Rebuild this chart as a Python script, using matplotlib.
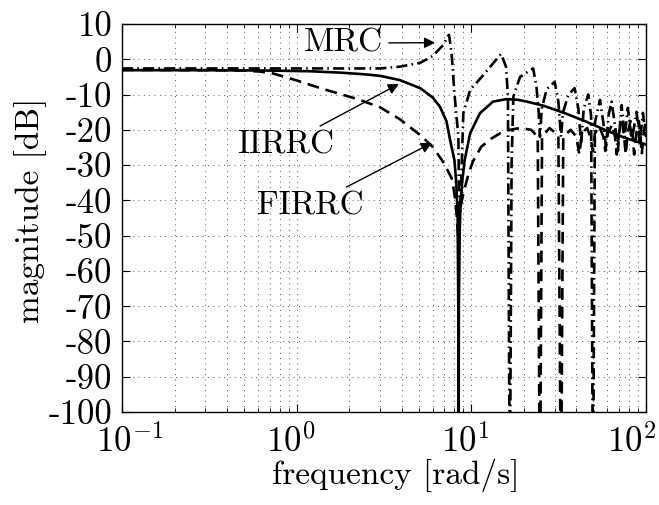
import matplotlib
matplotlib.use("Agg")
import matplotlib.pyplot as plt
import matplotlib.transforms as mtransforms
from matplotlib.ticker import LogLocator, NullFormatter

# -----------------------------
# Data
# -----------------------------

# IIRRC (solid)
iir_freq = [0.1, 0.3, 0.7, 1.2, 1.8, 2.5, 3.0, 3.9, 5.1, 6.0, 6.6, 7.2, 7.56,
            8.0, 8.2, 8.35, 8.42, 8.45, 8.48, 8.6, 8.85, 9.16, 9.84, 11.2,
            13.3, 15.9, 18.5, 20.8, 26.0, 34.4, 45.0, 58.2, 75.0, 100.0]
iir_mag = [-3.1, -3.1, -3.2, -3.4, -3.8, -4.3, -4.7, -5.9, -8.2, -10.8, -13.4,
           -17.5, -22.9, -28.6, -35.0, -45.0, -70.0, -130.0, -70.0, -45.0,
           -35.0, -28.6, -21.0, -15.3, -12.0, -11.3, -11.5, -12.0, -13.2,
           -15.3, -17.6, -20.0, -22.2, -24.2]

# FIRRC (dashed)
fir_freq = [0.1, 0.3, 0.5, 0.62, 0.73, 1.0, 1.37, 1.55, 2.2, 3.0, 3.9, 5.1,
            6.0, 6.98, 7.71, 8.0, 8.2, 8.45, 8.6, 9.0, 9.6, 10.2, 11.4, 13.0,
            14.6, 16.6, 19.0, 22.0, 24.0, 24.7, 25.4, 28.0, 31.5, 32.6, 33.6,
            37.0, 40.0, 41.5, 43.0, 46.0, 48.0, 49.7, 51.0, 54.0, 57.0, 58.5,
            60.5, 64.0, 66.5, 68.0, 70.0, 73.0, 75.0, 76.5, 78.5, 81.5, 84.0,
            85.5, 88.0, 91.0, 93.0, 94.5, 97.0, 100.0]
fir_mag = [-3.0, -3.1, -3.2, -3.5, -4.0, -6.0, -8.2, -9.0, -11.2, -13.6,
           -17.0, -21.5, -24.8, -29.5, -33.7, -38.0, -42.7, -52.0, -42.7,
           -38.0, -32.8, -29.0, -24.8, -22.5, -21.0, -20.0, -19.5, -20.0,
           -22.0, -130.0, -22.0, -19.5, -21.5, -130.0, -22.0, -20.0, -22.0,
           -27.0, -21.0, -19.5, -22.0, -26.0, -21.0, -19.0, -22.0, -26.0,
           -21.0, -18.5, -22.0, -27.0, -21.0, -18.0, -22.0, -27.0, -21.0,
           -17.5, -22.0, -27.0, -21.0, -17.5, -22.0, -27.0, -21.0, -17.0]

# MRC (dash-dot)
mrc_freq = [0.1, 0.5, 1.0, 2.0, 3.0, 3.9, 5.1, 6.0, 6.9, 7.35, 7.45, 7.71,
            8.0, 8.43, 8.55, 9.0, 9.84, 11.7, 14.6, 14.8, 15.8, 16.2, 16.6,
            17.0, 17.4, 19.0, 21.1, 22.6, 23.6, 24.3, 24.7, 25.3, 27.0, 30.0,
            31.5, 32.6, 33.5, 36.0, 39.0, 41.0, 42.5, 44.0, 46.7, 48.5, 49.7,
            51.0, 54.5, 57.0, 59.0, 61.0, 63.5, 67.0, 69.0, 72.5, 75.5, 78.7,
            83.0, 88.3, 92.0, 96.0, 100.0]
mrc_mag = [-2.6, -2.6, -2.6, -2.6, -2.6, -2.1, -1.0, 0.9, 4.0, 6.6, 6.9, 1.7,
           -9.6, -22.0, -50.0, -15.3, -8.7, -4.5, 1.2, 1.5, -2.1, -10.6,
           -130.0, -30.0, -10.6, -5.0, -3.5, -2.6, -7.8, -15.0, -22.0, -14.0,
           -8.5, -6.4, -12.0, -22.0, -15.0, -10.0, -8.2, -14.0, -24.0, -14.0,
           -10.0, -16.0, -130.0, -18.0, -11.5, -18.0, -25.0, -16.0, -12.0,
           -20.0, -26.0, -13.0, -22.0, -13.8, -23.0, -14.9, -24.0, -15.2,
           -22.0]

# Axis ticks
y_ticks = [10, 0, -10, -20, -30, -40, -50, -60, -70, -80, -90, -100]
y_tick_labels = ["10", "0", "-10", "-20", "-30", "-40", "-50", "-60", "-70",
                 "-80", "-90", "-100"]
x_ticks = [0.1, 1, 10, 100]
x_tick_labels = [r"$10^{-1}$", r"$10^{0}$", r"$10^{1}$", r"$10^{2}$"]


plt.rcParams["font.family"] = "cmr10"
plt.rcParams["mathtext.fontset"] = "cm"
plt.rcParams["axes.unicode_minus"] = False

fig = plt.figure(figsize=(6.59, 5.05), dpi=100)
ax = fig.add_axes([122 / 659, 1 - 412 / 505, 524 / 659, 388 / 505])

# Curves
ax.semilogx(iir_freq, iir_mag, color="black", linewidth=1.9,
            linestyle="-", solid_joinstyle="round")
ax.semilogx(fir_freq, fir_mag, color="black", linewidth=1.9,
            linestyle=(0, (4.5, 2.6)))
ax.semilogx(mrc_freq, mrc_mag, color="black", linewidth=1.9,
            linestyle=(0, (4.2, 1.6, 0.6, 1.6)))

ax.set_xlim(0.1, 100)
ax.set_ylim(-100, 10)

# Ticks
ax.set_xticks(x_ticks)
ax.set_xticklabels(x_tick_labels, fontsize=25)
ax.xaxis.set_minor_locator(LogLocator(base=10, subs=range(2, 10)))
ax.xaxis.set_minor_formatter(NullFormatter())
ax.set_yticks(y_ticks)
ax.set_yticklabels(y_tick_labels, fontsize=25)

ax.tick_params(which="both", direction="in", top=True, right=True)
ax.tick_params(which="major", length=6, width=0.8)
ax.tick_params(axis="y", which="major", pad=7)
ax.tick_params(axis="x", which="major", pad=9)
ax.tick_params(which="minor", length=3, width=0.6)
for spine in ax.spines.values():
    spine.set_linewidth(1.0)

# shift x tick labels a little, like the reference
label_shifts = [8, -6, -6, -14]
for lab, dx in zip(ax.get_xticklabels(), label_shifts):
    offset = mtransforms.ScaledTranslation(dx / 100, 0, fig.dpi_scale_trans)
    lab.set_transform(lab.get_transform() + offset)

# Grid
ax.grid(True, which="major", color="0.35", linestyle=(0, (1, 4.5)),
        linewidth=0.7)
ax.grid(True, which="minor", axis="x", color="0.35",
        linestyle=(0, (1, 4.5)), linewidth=0.7)

# Labels
ax.set_xlabel("frequency [rad/s]", fontsize=24)
ax.set_ylabel("magnitude [dB]", fontsize=24)
ax.xaxis.set_label_coords(0.523, -0.12)
ax.yaxis.set_label_coords(-0.175, 0.52)
ax.yaxis.label.set_va("center")
ax.xaxis.label.set_va("top")

# Annotations
arrow = dict(arrowstyle="-|>", color="black", lw=1.0,
             mutation_scale=16, shrinkA=2, shrinkB=0)
ax.annotate("MRC", xy=(6.2, 4.7), xytext=(1.86, 4.6),
            ha="center", va="center", fontsize=24, arrowprops=arrow)
ax.annotate("IIRRC", xy=(3.85, -7.0), xytext=(0.86, -24.2),
            ha="center", va="center", fontsize=24, arrowprops=arrow)
ax.annotate("FIRRC", xy=(5.95, -23.7), xytext=(1.2, -41.5),
            ha="center", va="center", fontsize=24, arrowprops=arrow)

fig.savefig("out.png", dpi=100)
